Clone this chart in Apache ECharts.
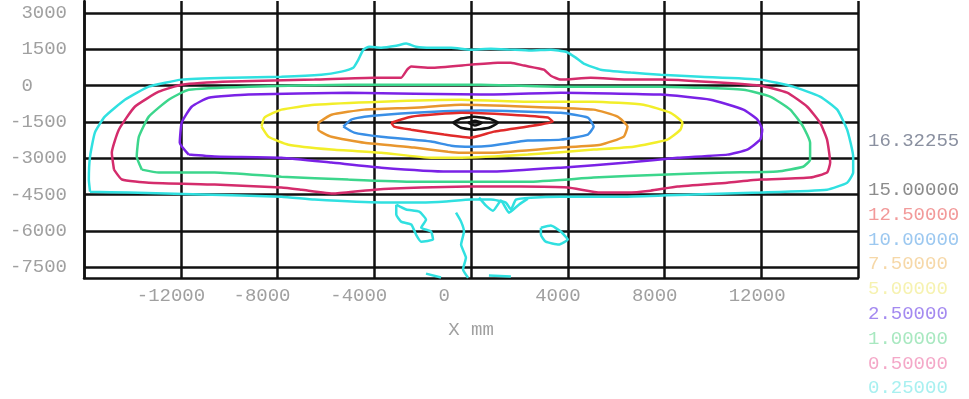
<!DOCTYPE html>
<html>
<head>
<meta charset="utf-8">
<script src="https://cdn.jsdelivr.net/npm/echarts@6/dist/echarts.min.js"></script>
<style>
  html, body { margin: 0; padding: 0; background: #ffffff; }
  #chart { width: 969px; height: 399px; }
</style>
</head>
<body>
<div id="chart"></div>
<script>
// Axis ticks
const xTickLabels = [-12000, -8000, -4000, 0, 4000, 8000, 12000];
const yTickValues = [3000, 1500, 0, -1500, -3000, -4500, -6000, -7500];

// Contour levels (legend text, top to bottom) and the peak value
const peakValue = '16.32255';
const levelNames = ['15.00000', '12.50000', '10.00000', '7.50000', '5.00000', '2.50000', '1.00000', '0.50000', '0.25000'];
const levelLineColors = ['#111111', '#e02a2a', '#3a8fe6', '#e8962e', '#f2ee2a', '#7a22e6', '#3cd68c', '#d42c6c', '#30e0e0'];
const levelTextColors = ['#8c8c8c', '#f29a9a', '#9cc8f0', '#f6d8a8', '#f6f2b0', '#a48af0', '#a8e8c0', '#f4a8c8', '#a8f0f0'];

// Contour paths, [x mm, y mm]
const c025Main = [[-15750,-4380],[-15800,-3880],[-15750,-2930],[-15550,-1940],[-15140,-1280],[-14310,-580],[-13320,-40],[-11960,250],[-9900,330],[-7840,370],[-6190,450],[-5360,580],[-4870,740],[-4660,1070],[-4450,1490],[-4210,1610],[-3710,1570],[-3090,1650],[-2680,1740],[-2270,1610],[-1650,1570],[-820,1570],[0,1490],[820,1530],[1650,1490],[2470,1450],[3300,1490],[3920,1400],[4330,1160],[4660,910],[5360,660],[6600,540],[7840,450],[9490,370],[11960,250],[13320,-40],[14430,-450],[15140,-990],[15550,-1820],[15800,-2930],[15800,-3590],[15550,-4010],[14720,-4300],[11960,-4420],[9200,-4500],[6470,-4590],[3710,-4590],[2470,-4630],[1860,-4710],[1650,-5120],[1440,-4830],[820,-4710],[0,-4710],[-1030,-4790],[-2060,-4830],[-3710,-4830],[-6470,-4710],[-7840,-4590],[-11130,-4500],[-14150,-4420],[-15750,-4380]];
const c025BlobA = [[-3090,-4920],[-2680,-5120],[-2140,-5210],[-1860,-5540],[-2060,-5870],[-1650,-6030],[-1570,-6360],[-2060,-6450],[-2270,-6160],[-2470,-5740],[-2890,-5620],[-3090,-5330],[-3090,-4920]];
const c025Stem = [[-620,-5250],[-410,-5620],[-290,-6030],[-410,-6570],[-210,-7110],[-330,-7600],[-120,-7940]];
const c025Ragged = [[330,-4630],[620,-4960],[910,-5170],[1240,-4750],[1570,-5250],[1980,-4920],[2350,-4670]];
const c025BlobD = [[2890,-5870],[3300,-5780],[3710,-6030],[4000,-6360],[3630,-6570],[3090,-6450],[2890,-6160],[2890,-5870]];
const c025BitsL = [[-1860,-7770],[-1240,-7930]];
const c025BitsR = [[740,-7850],[1650,-7890]];
const c050 = [[-14760,-3470],[-14850,-2770],[-14560,-1820],[-13900,-870],[-12910,-250],[-11960,40],[-9900,170],[-6470,250],[-4000,330],[-2890,330],[-2640,660],[-2470,790],[-1650,740],[0,870],[1110,950],[1650,950],[2190,830],[3010,660],[3300,410],[3710,250],[4950,330],[6600,250],[7840,250],[11960,0],[13070,-290],[13900,-870],[14430,-1530],[14720,-2230],[14850,-3180],[14720,-3590],[14020,-3800],[11960,-3880],[10600,-4010],[8540,-4170],[7420,-4340],[6470,-4420],[5360,-4420],[4000,-4210],[2060,-4170],[-120,-4170],[-2060,-4210],[-4000,-4300],[-5650,-4460],[-7010,-4300],[-7840,-4210],[-10600,-4090],[-13320,-4010],[-14430,-3880],[-14760,-3470]];
const c100 = [[-13610,-3470],[-13820,-2930],[-13730,-2110],[-13320,-1280],[-12500,-580],[-11670,-170],[-9200,-40],[-5070,40],[410,40],[3710,-40],[7840,-40],[11260,-170],[12370,-450],[13200,-990],[13730,-1690],[14020,-2360],[14020,-3060],[13730,-3350],[12660,-3550],[10600,-3590],[7840,-3680],[5070,-3800],[2350,-3970],[-410,-3970],[-2350,-3970],[-5070,-3880],[-7840,-3760],[-10600,-3590],[-12910,-3590],[-13610,-3470]];
const c250 = [[-11670,-2850],[-12040,-2360],[-11960,-1530],[-11550,-870],[-10850,-500],[-9200,-370],[-5070,-290],[410,-370],[3710,-290],[7840,-370],[9900,-580],[11260,-990],[11840,-1400],[12040,-1820],[11960,-2230],[11420,-2640],[10600,-2850],[8540,-2980],[6470,-3180],[3710,-3390],[950,-3550],[-950,-3550],[-3710,-3390],[-5770,-3180],[-7840,-2980],[-10600,-2930],[-11670,-2850]];
const c500 = [[-8660,-1690],[-8540,-1320],[-7840,-990],[-6470,-790],[-3710,-660],[-410,-580],[2350,-660],[5070,-660],[7130,-790],[8250,-1120],[8740,-1530],[8660,-1820],[8120,-2230],[6720,-2520],[5070,-2640],[2350,-2850],[-410,-2980],[-1650,-2980],[-3710,-2770],[-5770,-2640],[-7550,-2440],[-8370,-2110],[-8660,-1690]];
const c750 = [[-6310,-1530],[-5770,-1200],[-4410,-990],[-2350,-910],[-410,-790],[2350,-870],[5070,-990],[6060,-1280],[6470,-1690],[6310,-2110],[5360,-2440],[3710,-2560],[950,-2770],[-410,-2770],[-950,-2730],[-2350,-2560],[-4410,-2360],[-5770,-2110],[-6310,-1820],[-6310,-1530]];
const c1000 = [[-5280,-1690],[-4950,-1400],[-4410,-1280],[-2350,-1120],[410,-1030],[3710,-1120],[4830,-1320],[5070,-1690],[4830,-2020],[3710,-2230],[2350,-2270],[820,-2480],[0,-2520],[-820,-2480],[-1650,-2310],[-3710,-2110],[-4830,-1940],[-5280,-1690]];
const c1250 = [[-3300,-1530],[-2470,-1280],[-410,-1120],[1650,-1200],[3180,-1320],[3380,-1490],[2350,-1690],[950,-1900],[0,-2150],[-1110,-2020],[-2470,-1820],[-3180,-1690],[-3300,-1530]];
const c1500Outer = [[-740,-1530],[-410,-1360],[120,-1280],[740,-1360],[1110,-1530],[740,-1740],[120,-1820],[-410,-1740],[-740,-1530]];
const c1500Inner = [[-120,-1530],[160,-1450],[450,-1530],[160,-1650],[-120,-1530]];

const FONT = '"Liberation Mono", "DejaVu Sans Mono", monospace';
const signed = v => (v < 0 ? '' : ' ') + v;

const paths = [
  { level: '0.25000', data: c025Main },
  { level: '0.25000', data: c025BlobA },
  { level: '0.25000', data: c025Stem },
  { level: '0.25000', data: c025Ragged },
  { level: '0.25000', data: c025BlobD },
  { level: '0.25000', data: c025BitsL },
  { level: '0.25000', data: c025BitsR },
  { level: '0.50000', data: c050 },
  { level: '1.00000', data: c100 },
  { level: '2.50000', data: c250 },
  { level: '5.00000', data: c500 },
  { level: '7.50000', data: c750 },
  { level: '10.00000', data: c1000 },
  { level: '12.50000', data: c1250 },
  { level: '15.00000', data: c1500Outer },
  { level: '15.00000', data: c1500Inner }
];

const colorOf = name => levelLineColors[levelNames.indexOf(name)];

const series = paths.map(p => ({
  type: 'line',
  name: p.level,
  data: p.data,
  symbol: 'none',
  showSymbol: false,
  smooth: 0.15,
  clip: true,
  silent: true,
  z: 3,
  color: colorOf(p.level),
  lineStyle: { width: 2.5, color: colorOf(p.level) }
}));

const chart = echarts.init(document.getElementById('chart'), null, { renderer: 'canvas' });
chart.setOption({
  animation: false,
  backgroundColor: '#ffffff',
  title: {
    text: peakValue,
    left: 868, top: 131, padding: 0,
    textStyle: { fontFamily: FONT, fontSize: 19, fontWeight: 'normal', color: '#8a90a0', lineHeight: 20 }
  },
  legend: {
    orient: 'vertical',
    left: 862, top: 180,
    icon: 'none',
    itemWidth: 1, itemHeight: 14, itemGap: 4.8,
    padding: 0,
    selectedMode: true,
    data: levelNames.map((n, i) => ({ name: n, textStyle: { color: levelTextColors[i] } })),
    textStyle: { fontFamily: FONT, fontSize: 19, lineHeight: 20 }
  },
  grid: { left: 84, right: 111, top: 1, bottom: 121, containLabel: false },
  xAxis: {
    type: 'value',
    min: -16000, max: 16000, interval: 4000,
    name: 'X mm',
    nameLocation: 'middle',
    nameGap: 42,
    nameTextStyle: { fontFamily: FONT, fontSize: 19, color: '#a0a0a0' },
    axisLine: { show: true, onZero: false, lineStyle: { color: '#111111', width: 2.5 } },
    axisTick: { show: false },
    splitLine: { show: true, lineStyle: { color: '#111111', width: 2.5 } },
    axisLabel: {
      customValues: xTickLabels,
      formatter: v => signed(v),
      align: 'left',
      padding: [0, 0, 0, -44],
      margin: 8,
      fontFamily: FONT, fontSize: 19, color: '#a0a0a0'
    }
  },
  yAxis: {
    type: 'value',
    min: -7950, max: 3500,
    axisLine: { show: true, onZero: false, lineStyle: { color: '#111111', width: 2.5 } },
    axisTick: { show: false, customValues: yTickValues },
    splitLine: { show: true, lineStyle: { color: '#111111', width: 2.5 } },
    axisLabel: {
      customValues: yTickValues,
      formatter: v => signed(v),
      align: 'left',
      margin: 74,
      fontFamily: FONT, fontSize: 19, color: '#a0a0a0'
    }
  },
  series: series
});
</script>
</body>
</html>
